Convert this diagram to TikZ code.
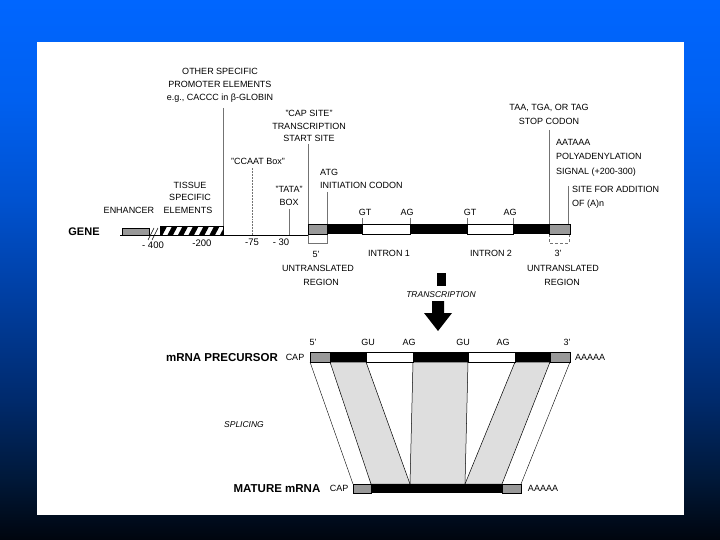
\documentclass[tikz,border=0pt]{standalone}
\usepackage{fontspec}
\setmainfont{Liberation Sans}
\definecolor{bgA}{HTML}{0066FF}
\definecolor{bgB}{HTML}{0060F0}
\definecolor{bgC}{HTML}{0052D0}
\definecolor{bgD}{HTML}{003EA0}
\definecolor{bgE}{HTML}{002A6C}
\definecolor{bgF}{HTML}{001838}
\definecolor{bgG}{HTML}{00050E}
\tikzset{
  lbl/.style={font=\fontsize{9}{10}\selectfont, inner sep=0pt, anchor=base},
  lbll/.style={lbl, anchor=base west},
  ital/.style={lbl, font=\fontsize{8.5}{10}\selectfont\itshape},
  hand/.style={lbl, font=\fontsize{9.5}{10}\selectfont},
  bigl/.style={font=\fontsize{11.5}{13}\selectfont\bfseries, inner sep=0pt, anchor=base},
  vline/.style={draw=black!55, line width=0.5pt},
  stip/.style={fill=black!40, draw=black, line width=0.4pt},
  intron/.style={fill=white, draw=black, line width=0.5pt},
  band/.style={fill=black!13, draw=black, line width=0.5pt},
}
\begin{document}
\begin{tikzpicture}[x=1pt,y=-1pt]
\useasboundingbox (0,0) rectangle (720,540);
% background
\shade[top color=bgA, bottom color=bgB] (0,0) rectangle (720,100.5);
\shade[top color=bgB, bottom color=bgC] (0,100) rectangle (720,200.5);
\shade[top color=bgC, bottom color=bgD] (0,200) rectangle (720,300.5);
\shade[top color=bgD, bottom color=bgE] (0,300) rectangle (720,400.5);
\shade[top color=bgE, bottom color=bgF] (0,400) rectangle (720,480.5);
\shade[top color=bgF, bottom color=bgG] (0,480) rectangle (720,540);
\fill[white] (37,42) rectangle (684,515);

% ---------- top labels ----------
\node[lbl] (osp1) at (220,75) {OTHER SPECIFIC};
\node[lbl] (osp2) at (220,88) {PROMOTER ELEMENTS};
\node[lbl] (osp3) at (220,101) {e.g., CACCC in β-GLOBIN};
\node[lbl] (cap1) at (309,116.5) {"CAP SITE"};
\node[lbl] (cap2) at (309,129.5) {TRANSCRIPTION};
\node[lbl] (cap3) at (309,141.5) {START SITE};
\node[lbl] (ccaat) at (258,164.5) {"CCAAT Box"};
\node[lbl] (tis1) at (190,189) {TISSUE};
\node[lbl] (tis2) at (190,201) {SPECIFIC};
\node[lbl] (tis3) at (188,214) {ELEMENTS};
\node[lbl] (enh) at (129,214) {ENHANCER};
\node[lbl] (tata1) at (289,193) {"TATA"};
\node[lbl] (tata2) at (289,206) {BOX};
\node[lbll] (atg1) at (320,176) {ATG};
\node[lbll] (atg2) at (320,189) {INITIATION CODON};
\node[lbl] (gt1) at (365,215) {GT};
\node[lbl] (ag1) at (407,215) {AG};
\node[lbl] (gt2) at (470,215) {GT};
\node[lbl] (ag2) at (510,215) {AG};
\node[lbl] (stop1) at (549,111) {TAA, TGA, OR TAG};
\node[lbl] (stop2) at (549,125) {STOP CODON};
\node[lbll] (pa1) at (556,146) {AATAAA};
\node[lbll] (pa2) at (556,160) {POLYADENYLATION};
\node[lbll] (pa3) at (556,175) {SIGNAL (+200-300)};
\node[lbll] (sa1) at (572,193) {SITE FOR ADDITION};
\node[lbll] (sa2) at (572,207) {OF (A)n};

% vertical pointer lines
\draw[vline] (223,108) -- (223,235.5);
\draw[vline, densely dotted] (252,168) -- (252,235.5);
\draw[vline] (289,209) -- (289,235.5);
\draw[vline] (308,144) -- (308,224);
\draw[vline] (327,192) -- (327,224);
\draw[vline] (549,130) -- (549,224);
\draw[vline] (568,186) -- (568,224);
% UTR brackets
\draw[vline] (308,234) -- (308,243) -- (327,243) -- (327,234);
\draw[vline, densely dashed] (549,234) -- (549,243) -- (569,243) -- (569,234);
% GT/AG ticks
\foreach \xx in {362,410,467,513} \draw[vline] (\xx,218) -- (\xx,224);

% ---------- gene line ----------
\node[font=\fontsize{11}{13}\selectfont\bfseries, inner sep=0pt, anchor=base] (gene) at (84,236) {GENE};
\draw[black, line width=0.6pt] (120,235) -- (308,235);
\filldraw[stip] (122,228) rectangle (149,235);
\draw[black, line width=0.5pt] (148,240) -- (154,228) (152,240) -- (158,228);
\draw[black, line width=0.5pt] (160,226.5) rectangle (223,235);
\begin{scope}
  \clip (160,226.5) rectangle (223,235);
  \foreach \xx in {157,167.5,...,230} \fill (\xx,235) -- (\xx+5.5,235) -- (\xx+10,226.5) -- (\xx+4.5,226.5) -- cycle;
\end{scope}
\node[hand] (n400) at (153,248) {- 400};
\node[hand] (n200) at (202,246) {-200};
\node[hand] (n75) at (252,245) {-75};
\node[hand] (n30) at (281,245) {- 30};

\filldraw[stip] (308,224) rectangle (327,234);
\fill (327,224) rectangle (362,234);
\draw[intron] (362,224) rectangle (410,234);
\fill (410,224) rectangle (467,234);
\draw[intron] (467,224) rectangle (513,234);
\fill (513,224) rectangle (549,234);
\filldraw[stip] (549,224) rectangle (570,234);

\node[lbl] (u5a) at (316,257) {5'};
\node[lbl] (u5b) at (318,271) {UNTRANSLATED};
\node[lbl] (u5c) at (321,285) {REGION};
\node[lbl] (in1) at (389,256) {INTRON 1};
\node[lbl] (in2) at (491,256) {INTRON 2};
\node[lbl] (u3a) at (558,256) {3'};
\node[lbl] (u3b) at (563,271) {UNTRANSLATED};
\node[lbl] (u3c) at (562,285) {REGION};

% ---------- transcription ----------
\fill (437,273) rectangle (446,286);
\node[ital] (trans) at (441,297) {TRANSCRIPTION};
\fill (432,301) -- (444,301) -- (444,313) -- (452,313) -- (438,331) -- (424,313) -- (432,313) -- cycle;

% ---------- splicing bands ----------
\draw[black, line width=0.4pt] (310,362) -- (353,484);
\draw[black, line width=0.4pt] (570,362) -- (521,484);
\filldraw[band] (330,362) -- (366,362) -- (410,484) -- (371,484) -- cycle;
\filldraw[band] (413,362) -- (468,362) -- (465,484) -- (410,484) -- cycle;
\filldraw[band] (515,362) -- (550,362) -- (502,484) -- (465,484) -- cycle;
\node[ital] (splice) at (244,427) {SPLICING};

% ---------- precursor ----------
\node[bigl] (prec) at (222,361) {mRNA PRECURSOR};
\node[lbl] (pcap) at (295,360.2) {CAP};
\node[lbl] (ppoly) at (590,360.2) {AAAAA};
\node[lbl] (p5) at (313,345) {5'};
\node[lbl] (pgu1) at (368,345) {GU};
\node[lbl] (pag1) at (409,345) {AG};
\node[lbl] (pgu2) at (463,345) {GU};
\node[lbl] (pag2) at (503,345) {AG};
\node[lbl] (p3) at (567,345) {3'};
\filldraw[stip] (310,352) rectangle (330,362);
\fill (330,352) rectangle (366,362);
\draw[intron] (366,352) rectangle (413,362);
\fill (413,352) rectangle (468,362);
\draw[intron] (468,352) rectangle (515,362);
\fill (515,352) rectangle (550,362);
\filldraw[stip] (550,352) rectangle (570,362);

% ---------- mature ----------
\node[bigl] (mat) at (277,492) {MATURE mRNA};
\node[lbl] (mcap) at (339,491.2) {CAP};
\node[lbl] (mpoly) at (543,491.2) {AAAAA};
\filldraw[stip] (353,484) rectangle (371,493);
\fill (371,484) rectangle (502,493);
\filldraw[stip] (502,484) rectangle (521,493);
\end{tikzpicture}
\end{document}
